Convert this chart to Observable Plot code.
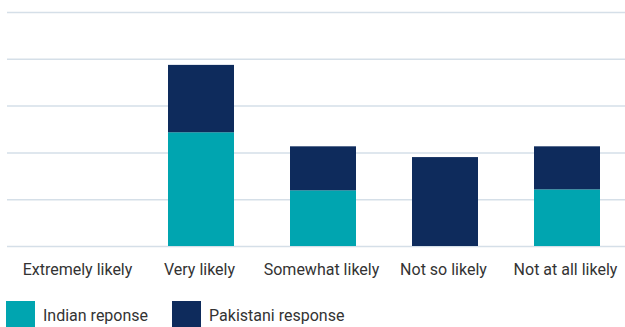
<!DOCTYPE html>
<html><head><meta charset="utf-8">
<script src="https://cdn.jsdelivr.net/npm/d3@7"></script>
<script src="https://cdn.jsdelivr.net/npm/@observablehq/plot@0.6"></script>
<style>
body{margin:0;background:#fff;font-family:Roboto,sans-serif;}
#legend{display:flex;align-items:center;margin-top:11px;margin-left:6px;font-size:16px;color:#333;}
.sw{width:29px;height:29px;display:inline-block;margin-right:8px;}
.item{display:flex;align-items:center;margin-right:24px;}
</style></head><body>
<div id="chart"></div>
<div id="legend"></div>
<script>
const categories = ["Extremely likely","Very likely","Somewhat likely","Not so likely","Not at all likely"];
const indian = [0, 24.3, 11.9, 0, 12.1];
const pakistani = [0, 14.4, 9.4, 19.0, 9.2];
const seriesNames = ["Indian reponse","Pakistani response"];
const colors = ["#00a5b0","#0e2b5c"];
const yTicks = [0,10,20,30,40,50];

const data = [];
categories.forEach((c,i)=>{
  data.push({cat:c, series:seriesNames[0], v:indian[i]});
  data.push({cat:c, series:seriesNames[1], v:pakistani[i]});
});

const chart = Plot.plot({
  width:625, height:290,
  marginTop:12, marginBottom:44, marginLeft:7, marginRight:0,
  style:{fontFamily:"Roboto, sans-serif", fontSize:"16px", color:"#333", background:"#fff"},
  x:{domain:categories, range:[16,629.5], paddingInner:0.46, paddingOuter:0.23, label:null},
  y:{domain:[0,50], ticks:yTicks, axis:null},
  color:{domain:seriesNames, range:colors},
  marks:[
    Plot.gridY(yTicks,{stroke:"#d5dfe8", strokeOpacity:1, strokeWidth:1.5}),
    Plot.barY(data, Plot.stackY({x:"cat", y:"v", fill:"series", order:seriesNames})),
    Plot.axisX({tickSize:0, tickPadding:17, fontSize:16, fill:"#333", label:null, dx:-2})
  ]
});
document.getElementById("chart").appendChild(chart);

const lg = document.getElementById("legend");
seriesNames.forEach((s,i)=>{
  const it = document.createElement("div"); it.className="item";
  const sw = document.createElement("span"); sw.className="sw"; sw.style.background=colors[i];
  it.appendChild(sw);
  const t = document.createElement("span"); t.textContent=s; it.appendChild(t);
  lg.appendChild(it);
});
</script>
</body></html>
